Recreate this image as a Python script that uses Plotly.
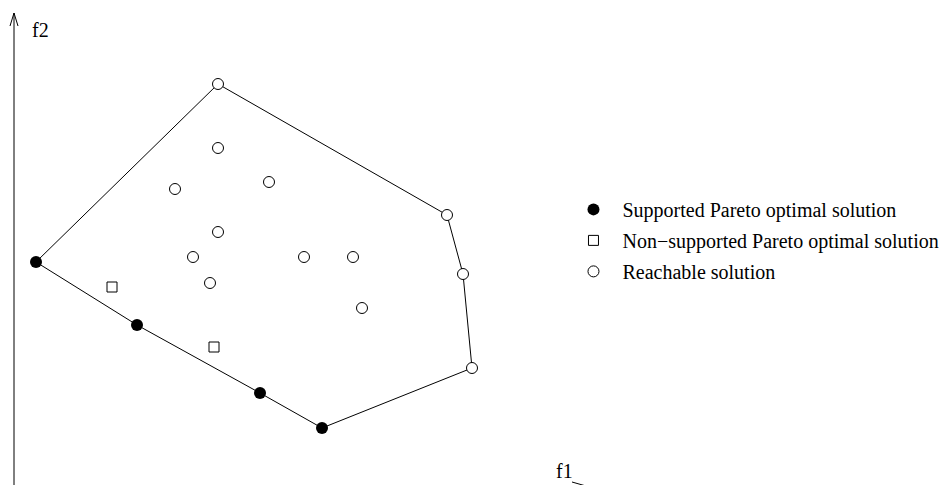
import plotly.graph_objects as go

# objective space values (f1 to the right, f2 upwards)
supported_f1 = [22, 123, 246, 308]
supported_f2 = [223, 160, 92, 57]

nonsupported_f1 = [98, 200]
nonsupported_f2 = [198, 138]

reachable_f1 = [204, 204, 161, 255, 204, 179, 290, 339, 196, 348, 433, 449, 458]
reachable_f2 = [401, 337, 296, 303, 253, 228, 228, 228, 202, 177, 270, 211, 117]

# outline of the reachable set, closed
hull_f1 = [22, 204, 433, 449, 458, 308, 246, 123, 22]
hull_f2 = [223, 401, 270, 211, 117, 57, 92, 160, 223]

FONT = "Liberation Serif, Times New Roman, serif"

fig = go.Figure()

fig.add_trace(go.Scatter(
    x=hull_f1, y=hull_f2, mode='lines',
    line=dict(color='black', width=1),
    showlegend=False, hoverinfo='skip',
))
fig.add_trace(go.Scatter(
    x=supported_f1, y=supported_f2, mode='markers',
    name='Supported Pareto optimal solution', legendgroup='a',
    marker=dict(symbol='circle', size=12, color='black'),
))
fig.add_trace(go.Scatter(
    x=nonsupported_f1, y=nonsupported_f2, mode='markers',
    name='Non\u2212supported Pareto optimal solution', legendgroup='b',
    marker=dict(symbol='square-open', size=10, color='black',
                line=dict(width=1)),
))
fig.add_trace(go.Scatter(
    x=reachable_f1, y=reachable_f2, mode='markers',
    name='Reachable solution', legendgroup='c',
    marker=dict(symbol='circle', size=11, color='white',
                line=dict(color='black', width=1)),
))

# f2 axis with an open arrow head
fig.add_shape(type='line', x0=0, y0=-10, x1=0, y1=472,
              line=dict(color='black', width=1))
fig.add_shape(type='path', path='M -4,459 L 0,472 L 4,459',
              line=dict(color='black', width=1))
# tip of the f1 arrow, mostly cut off
fig.add_shape(type='line', x0=558, y0=3, x1=572, y1=-1,
              line=dict(color='black', width=1))

fig.add_annotation(x=26, y=455, text='f2', showarrow=False,
                   xanchor='center', yanchor='middle',
                   font=dict(family=FONT, size=20, color='black'))
fig.add_annotation(x=550, y=14, text='f1', showarrow=False,
                   xanchor='center', yanchor='middle',
                   font=dict(family=FONT, size=20, color='black'))

# ranges account for the 8px page margin around the plot div
fig.update_xaxes(range=[-6, 942], visible=False)
fig.update_yaxes(range=[-8, 477], visible=False)
fig.update_layout(
    width=948, height=485,
    margin=dict(l=0, r=0, t=0, b=0),
    plot_bgcolor='white', paper_bgcolor='white',
    font=dict(family=FONT, size=20, color='black'),
    legend=dict(x=0.587, y=0.625, xanchor='left', yanchor='top',
                itemwidth=48, tracegroupgap=2, traceorder='grouped',
                bgcolor='rgba(0,0,0,0)'),
)

fig.write_html("out.html")
